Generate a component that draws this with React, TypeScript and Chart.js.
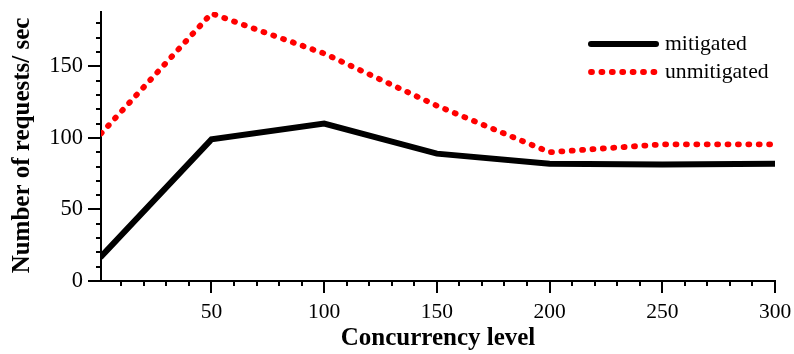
import React, { useEffect, useRef } from "react";
import { Chart, registerables } from "chart.js";

Chart.register(...registerables);

// Concurrency levels tested
const concurrency = [1, 50, 100, 150, 200, 250, 300];
// Throughput (requests/sec) with the mitigation enabled
const mitigated = [17, 99, 110, 89, 82, 81.5, 82];
// Throughput (requests/sec) without the mitigation
const unmitigated = [103, 187, 159, 122.5, 90, 95.5, 95.5];

const xLabels = [50, 100, 150, 200, 250, 300];
const yLabels = [0, 50, 100, 150];

const yTitle = "Number of requests/ sec";

const SERIF = "'Liberation Serif', 'Times New Roman', serif";

// Draws outward major/minor tick marks on both axes
const tickMarks = {
  id: "tickMarks",
  afterDraw(chart: any) {
    const { ctx, scales } = chart;
    const x = scales.x;
    const y = scales.y;
    ctx.save();
    ctx.strokeStyle = "#000";
    ctx.lineWidth = 2;
    ctx.beginPath();
    for (const t of x.ticks) {
      const px = Math.round(x.getPixelForValue(t.value));
      const len = xLabels.includes(t.value) ? 12 : 5;
      ctx.moveTo(px, x.top);
      ctx.lineTo(px, x.top + len);
    }
    for (const t of y.ticks) {
      const py = Math.round(y.getPixelForValue(t.value));
      const len = yLabels.includes(t.value) ? 13 : 5;
      ctx.moveTo(y.right, py);
      ctx.lineTo(y.right - len, py);
    }
    ctx.stroke();
    ctx.restore();
  },
};

// Vertical y-axis title, centred on the plot height
const yAxisTitle = {
  id: "yAxisTitle",
  afterDraw(chart: any) {
    const { ctx, chartArea } = chart;
    ctx.save();
    ctx.translate(23, (chartArea.top + chartArea.bottom) / 2 - 1);
    ctx.rotate(-Math.PI / 2);
    ctx.fillStyle = "#000";
    ctx.font = `bold 25px ${SERIF}`;
    ctx.textAlign = "center";
    ctx.textBaseline = "middle";
    ctx.fillText(yTitle, 0, 0);
    ctx.restore();
  },
};

// Legend with line samples in the upper-right corner
const lineLegend = {
  id: "lineLegend",
  afterDraw(chart: any) {
    const { ctx } = chart;
    const x0 = 591;
    const x1 = 656;
    const rows = [44, 72];
    ctx.save();
    chart.data.datasets.forEach((ds: any, i: number) => {
      const yy = rows[i];
      ctx.beginPath();
      ctx.strokeStyle = ds.borderColor;
      ctx.lineWidth = ds.borderWidth;
      ctx.lineCap = ds.borderCapStyle || "butt";
      ctx.setLineDash(ds.borderDash || []);
      ctx.moveTo(x0, yy);
      ctx.lineTo(x1, yy);
      ctx.stroke();
      ctx.setLineDash([]);
      ctx.fillStyle = "#000";
      ctx.font = `21.7px ${SERIF}`;
      ctx.textBaseline = "middle";
      ctx.textAlign = "left";
      ctx.fillText(ds.label, 665, yy);
    });
    ctx.restore();
  },
};

export default function App() {
  const ref = useRef<HTMLCanvasElement | null>(null);

  useEffect(() => {
    if (!ref.current) return;
    const chart = new Chart(ref.current, {
      type: "line",
      data: {
        datasets: [
          {
            label: "mitigated",
            data: concurrency.map((c, i) => ({ x: c, y: mitigated[i] })),
            borderColor: "#000000",
            borderWidth: 6,
            borderCapStyle: "round",
            pointRadius: 0,
            tension: 0,
          },
          {
            label: "unmitigated",
            data: concurrency.map((c, i) => ({ x: c, y: unmitigated[i] })),
            borderColor: "#ff0000",
            borderWidth: 5.8,
            borderDash: [1, 9.4],
            borderCapStyle: "round",
            pointRadius: 0,
            tension: 0,
          },
        ],
      },
      options: {
        responsive: false,
        animation: false,
        layout: { padding: { top: 12, right: 19, left: 0, bottom: 0 } },
        plugins: {
          legend: { display: false },
          tooltip: { enabled: false },
        },
        scales: {
          x: {
            type: "linear",
            min: 1,
            max: 300,
            grid: {
              drawOnChartArea: false,
              drawTicks: true,
              tickLength: 12,
              color: "rgba(0,0,0,0)",
              tickColor: "rgba(0,0,0,0)",
            },
            border: { display: true, color: "#000", width: 2 },
            ticks: {
              stepSize: 10,
              includeBounds: false,
              autoSkip: false,
              maxRotation: 0,
              padding: 6,
              color: "#000",
              font: { family: SERIF, size: 21.5 },
              callback: (v: any) => (xLabels.includes(v) ? String(v) : ""),
            },
            title: {
              display: true,
              text: "Concurrency level",
              color: "#000",
              font: { family: SERIF, size: 25, weight: "bold" },
              padding: { top: 0, bottom: 0 },
            },
            afterFit(scale: any) {
              scale.height = 73;
              scale.paddingLeft = 0;
              scale.paddingRight = 0;
            },
          },
          y: {
            type: "linear",
            min: 0,
            max: 188,
            grid: {
              drawOnChartArea: false,
              drawTicks: true,
              tickLength: 13,
              color: "rgba(0,0,0,0)",
              tickColor: "rgba(0,0,0,0)",
            },
            border: { display: true, color: "#000", width: 2 },
            ticks: {
              stepSize: 10,
              includeBounds: false,
              autoSkip: false,
              padding: 5,
              color: "#000",
              font: { family: SERIF, size: 22.5 },
              callback: (v: any) => (yLabels.includes(v) ? String(v) : ""),
            },
            title: { display: false },
            afterFit(scale: any) {
              scale.width = 101;
              scale.paddingTop = 0;
              scale.paddingBottom = 0;
            },
          },
        },
      },
      plugins: [tickMarks, yAxisTitle, lineLegend],
    });
    return () => chart.destroy();
  }, []);

  return (
    <div style={{ position: "fixed", left: 0, top: 0, width: 794, height: 354, background: "#fff" }}>
      <canvas ref={ref} width={794} height={354} />
    </div>
  );
}
